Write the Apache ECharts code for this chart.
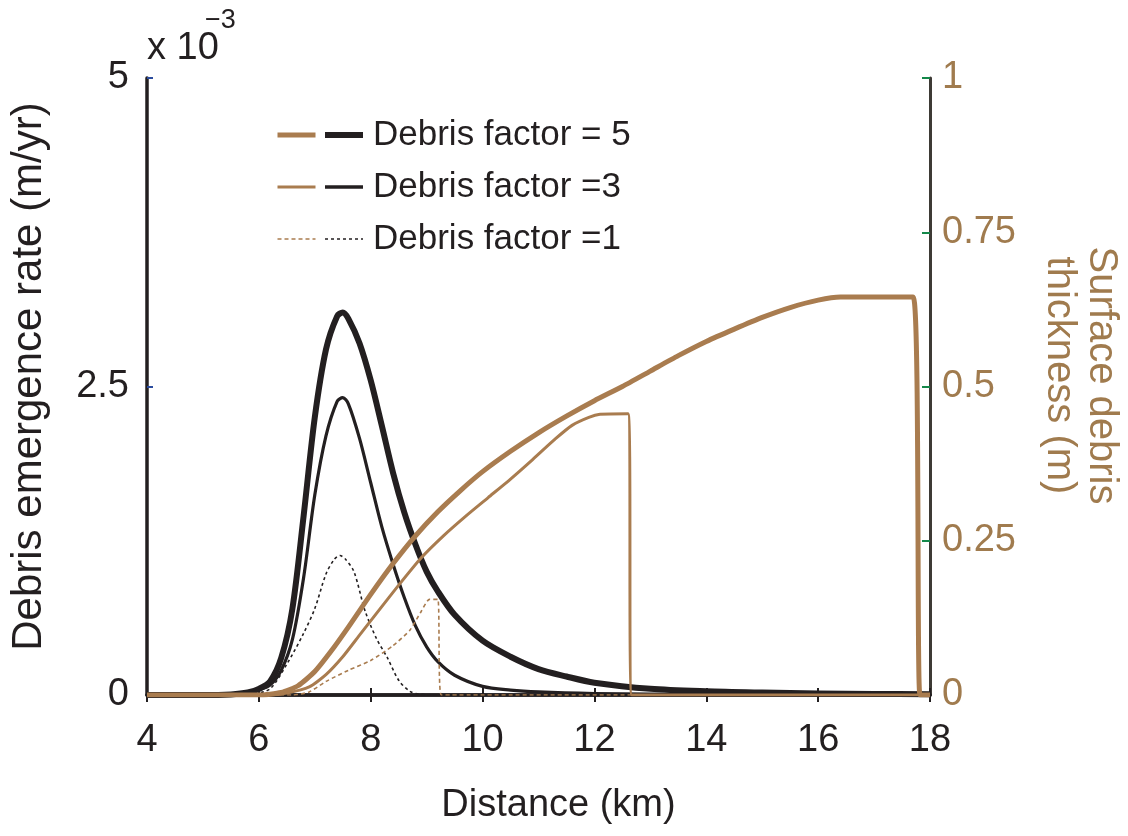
<!DOCTYPE html>
<html lang="en">
<head>
    <meta charset="UTF-8">
    <title>Debris emergence rate and surface debris thickness</title>
    <script src="https://cdn.jsdelivr.net/npm/echarts@6/dist/echarts.min.js"></script>
    <style>
        html, body { margin: 0; padding: 0; background: #fff; }
        #main { width: 1128px; height: 836px; }
    </style>
</head>
<body>
<div id="main"></div>
<script>
// emergence rate (x 1e-3 m/yr), black curves
var xEmerg5 = [4, 5, 5.5, 5.8, 6.0, 6.2, 6.4, 6.6, 6.8, 7.0, 7.2, 7.4, 7.5, 7.6, 7.8, 8.0, 8.2, 8.4, 8.6, 8.8, 9.0, 9.2, 9.5, 10, 10.5, 11, 11.5, 12, 13, 14, 15, 16, 17, 18];
var emerg5 = [0, 0, 0.005, 0.02, 0.05, 0.11, 0.3, 0.7, 1.45, 2.25, 2.8, 3.07, 3.10, 3.05, 2.85, 2.55, 2.18, 1.8, 1.48, 1.22, 1.0, 0.84, 0.65, 0.44, 0.31, 0.21, 0.15, 0.1, 0.05, 0.03, 0.02, 0.013, 0.009, 0.007];

var xEmerg3 = [4, 5, 5.5, 5.8, 6.0, 6.2, 6.4, 6.6, 6.8, 7.0, 7.2, 7.4, 7.5, 7.6, 7.8, 8.0, 8.2, 8.4, 8.6, 8.8, 9.0, 9.2, 9.5, 10, 10.5, 11, 12, 13, 14, 16, 18];
var emerg3 = [0, 0, 0.004, 0.015, 0.04, 0.08, 0.2, 0.45, 0.95, 1.62, 2.1, 2.38, 2.41, 2.36, 2.08, 1.72, 1.36, 1.06, 0.79, 0.56, 0.39, 0.27, 0.16, 0.07, 0.04, 0.025, 0.012, 0.008, 0.005, 0.003, 0.002];

var xEmerg1 = [4, 5.5, 5.9, 6.2, 6.5, 6.8, 7.0, 7.2, 7.35, 7.45, 7.55, 7.7, 7.9, 8.1, 8.3, 8.5, 8.7, 8.9, 9.5, 18];
var emerg1 = [0, 0, 0.01, 0.05, 0.25, 0.5, 0.7, 0.98, 1.1, 1.13, 1.1, 1.0, 0.68, 0.46, 0.3, 0.12, 0.03, 0.005, 0, 0];

// surface debris thickness (m), brown curves
var xThick5 = [4, 6.0, 6.4, 6.7, 7.0, 7.3, 7.6, 8.0, 8.4, 8.8, 9.2, 9.6, 10, 10.5, 11, 11.5, 12, 12.5, 13, 13.5, 14, 14.5, 15, 15.5, 16, 16.4, 17.7, 17.82, 18];
var thick5 = [0, 0, 0.004, 0.015, 0.038, 0.072, 0.11, 0.163, 0.213, 0.258, 0.297, 0.331, 0.362, 0.395, 0.425, 0.452, 0.477, 0.5, 0.525, 0.55, 0.573, 0.593, 0.612, 0.628, 0.64, 0.645, 0.645, 0, 0];

var xThick3 = [4, 6.2, 6.5, 6.9, 7.2, 7.5, 7.8, 8.1, 8.5, 8.9, 9.3, 9.7, 10.1, 10.5, 10.9, 11.3, 11.6, 11.9, 12.1, 12.6, 12.67, 18];
var thick3 = [0, 0, 0.003, 0.013, 0.033, 0.062, 0.097, 0.132, 0.178, 0.222, 0.258, 0.29, 0.32, 0.35, 0.382, 0.415, 0.437, 0.45, 0.455, 0.456, 0, 0];

var xThick1 = [4, 6.6, 6.9, 7.2, 7.6, 8.0, 8.4, 8.7, 8.9, 9.05, 9.2, 9.26, 18];
var thick1 = [0, 0, 0.005, 0.022, 0.04, 0.056, 0.08, 0.105, 0.135, 0.155, 0.155, 0, 0];

var legendNames = ['Debris factor = 5', 'Debris factor =3', 'Debris factor =1'];

var BLACK = '#231f20';
var BROWN = '#a97c4f';
var BROWN_TEXT = '#a07b4e';
var FONT = 'Liberation Sans, Arial, sans-serif';

function zip(xs, ys) {
    var out = [];
    for (var i = 0; i < xs.length; i++) { out.push([xs[i], ys[i]]); }
    return out;
}

function lineSeries(name, data, color, width, type, yIdx, smooth) {
    return {
        name: name,
        type: 'line',
        xAxisIndex: 0,
        yAxisIndex: yIdx,
        data: data,
        symbol: 'none',
        smooth: smooth,
        silent: true,
        lineStyle: { color: color, width: width, type: type, cap: 'butt', join: 'round' },
        itemStyle: { color: color }
    };
}

var chart = echarts.init(document.getElementById('main'), null, { renderer: 'canvas' });

var option = {
    backgroundColor: '#fff',
    animation: false,
    textStyle: { fontFamily: FONT },
    grid: { left: 147, right: 198, top: 78, bottom: 141, containLabel: false, outerBoundsMode: 'none' },
    legend: [
        {
            // brown halves of the legend keys
            data: [
                { name: 'b5', lineStyle: { width: 5 } },
                { name: 'b3', lineStyle: { width: 3.2 } },
                { name: 'b1', lineStyle: { width: 1.6 } }
            ],
            orient: 'vertical',
            left: 270, top: 109,
            itemWidth: 38, itemHeight: 20, itemGap: 10,
            selectedMode: false,
            itemStyle: { opacity: 0 },
            formatter: function () { return ' '; },
            textStyle: { fontSize: 35, lineHeight: 42, fontFamily: FONT }
        },
        {
            data: [
                { name: legendNames[0], lineStyle: { width: 6 } },
                { name: legendNames[1], lineStyle: { width: 3.4 } },
                { name: legendNames[2], lineStyle: { width: 1.6 } }
            ],
            orient: 'vertical',
            left: 317, top: 109,
            itemWidth: 38, itemHeight: 20, itemGap: 10,
            selectedMode: false,
            itemStyle: { opacity: 0 },
            textStyle: { fontSize: 35, lineHeight: 42, color: BLACK, fontFamily: FONT, padding: [0, 0, 0, 5] }
        }
    ],
    xAxis: [
        {
            type: 'value', min: 4, max: 18, interval: 2,
            axisLine: { lineStyle: { color: BLACK, width: 3.5 } },
            axisTick: { inside: true, length: 7, lineStyle: { color: BLACK, width: 2 } },
            axisLabel: { fontSize: 38, color: BLACK, margin: 27, fontFamily: FONT },
            splitLine: { show: false },
            name: 'Distance (km)', nameLocation: 'middle', nameGap: 92,
            nameTextStyle: { fontSize: 38, color: BLACK, fontFamily: FONT, padding: [0, 0, 0, 40] }
        },
        {
            type: 'value', min: 4, max: 18, interval: 2, position: 'top',
            axisLine: { lineStyle: { color: BLACK, width: 3.5 } },
            axisTick: { inside: true, length: 7, lineStyle: { color: BLACK, width: 2 } },
            axisLabel: { show: false },
            splitLine: { show: false }
        }
    ],
    yAxis: [
        {
            type: 'value', min: 0, max: 5, interval: 2.5, position: 'left',
            axisLine: { show: true, lineStyle: { color: BLACK, width: 3.5 } },
            axisTick: { show: true, inside: true, length: 6, lineStyle: { color: '#2b4c9e', width: 2 } },
            axisLabel: { fontSize: 38, color: BLACK, margin: 18, fontFamily: FONT },
            splitLine: { show: false },
            name: 'Debris emergence rate (m/yr)', nameLocation: 'middle', nameGap: 97,
            nameTextStyle: { fontSize: 42, color: BLACK, fontFamily: FONT, padding: [0, 0, 0, 20] }
        },
        {
            type: 'value', min: 0, max: 1, interval: 0.25, position: 'right',
            axisLine: { show: true, lineStyle: { color: '#3d3a35', width: 3 } },
            axisTick: { show: true, inside: true, length: 8, lineStyle: { color: '#14884a', width: 2 } },
            axisLabel: { fontSize: 38, color: BROWN_TEXT, margin: 12, fontFamily: FONT },
            splitLine: { show: false },
            name: 'Surface debris\nthickness (m)', nameLocation: 'middle', nameGap: 108, nameRotate: -90,
            nameTextStyle: { fontSize: 40, color: BROWN_TEXT, lineHeight: 42, fontFamily: FONT, padding: [0, 22, 0, 0] }
        }
    ],
    graphic: [
        { type: 'text', left: 147, top: 30, style: { text: 'x 10', font: '38px ' + FONT, fill: BLACK } },
        { type: 'text', left: 205, top: 7, style: { text: '\u22123', font: '27px ' + FONT, fill: BLACK } }
    ],
    series: [
        lineSeries(legendNames[0], zip(xEmerg5, emerg5), BLACK, 6, 'solid', 0, 0.3),
        lineSeries(legendNames[1], zip(xEmerg3, emerg3), BLACK, 3.2, 'solid', 0, 0.3),
        lineSeries(legendNames[2], zip(xEmerg1, emerg1), BLACK, 1.6, [3, 3], 0, 0.3),
        lineSeries('b5', zip(xThick5, thick5), BROWN, 5, 'solid', 1, 0.2),
        lineSeries('b3', zip(xThick3, thick3), BROWN, 3, 'solid', 1, 0.2),
        lineSeries('b1', zip(xThick1, thick1), BROWN, 1.6, [4, 3], 1, 0.2)
    ]
};

chart.setOption(option);
</script>
</body>
</html>
